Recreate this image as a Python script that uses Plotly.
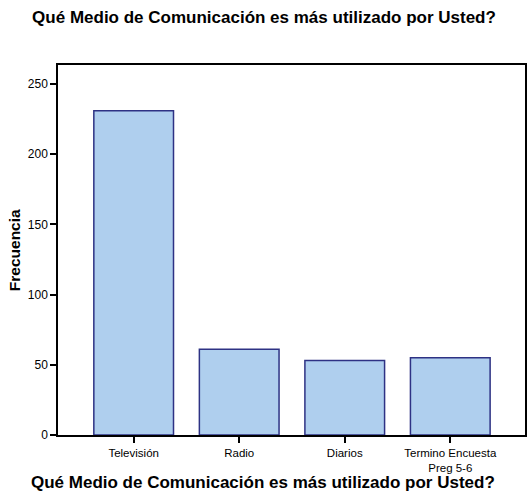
import plotly.graph_objects as go

categories = ["Televisión", "Radio", "Diarios", "Termino Encuesta<br>Preg 5-6"]
frecuencia = [231, 61, 53, 55]
y_ticks = [0, 50, 100, 150, 200, 250]
title_text = "Qué Medio de Comunicación es más utilizado por Usted?"
x_title = "Qué Medio de Comunicación es más utilizado por Usted?"
y_title = "Frecuencia"

FONT = "Liberation Sans, Arial, sans-serif"

fig = go.Figure(go.Bar(
    x=list(range(len(categories))),
    y=frecuencia,
    width=0.755,
    marker=dict(color="#AFCFEE", line=dict(color="#2E3284", width=1.5)),
))

fig.update_layout(
    width=528, height=494,
    margin=dict(l=58, r=1, t=65, b=59),
    paper_bgcolor="white", plot_bgcolor="white",
    font=dict(family=FONT, size=12, color="black"),
    showlegend=False,
    title=dict(text="<b>" + title_text + "</b>", x=0.5, xanchor="center",
               y=1 - 17 / 494, yanchor="middle", yref="container",
               font=dict(size=17, family=FONT, color="black")),
    xaxis=dict(
        range=[-0.717, 3.708], tickmode="array",
        tickvals=list(range(len(categories))), ticktext=categories,
        ticks="outside", ticklen=6, tickcolor="black", tickwidth=1.5,
        showline=True, linecolor="black", linewidth=1.5, mirror=True,
        showgrid=False, zeroline=False,
        tickfont=dict(size=11.5, family=FONT, color="black"),
    ),
    yaxis=dict(
        range=[0, 263.5], tickmode="array", tickvals=y_ticks,
        ticks="outside", ticklen=6, tickcolor="black", tickwidth=1.5,
        showline=True, linecolor="black", linewidth=1.5, mirror=True,
        showgrid=False, zeroline=False,
        tickfont=dict(size=12, family=FONT, color="black"),
    ),
    annotations=[
        dict(text="<b>" + x_title + "</b>", xref="paper", yref="paper",
             x=(264 - 58) / 469, y=-47 / 370, xanchor="center", yanchor="middle",
             showarrow=False, font=dict(size=17, family=FONT, color="black")),
        dict(text="<b>" + y_title + "</b>", xref="paper", yref="paper",
             x=-44 / 469, y=0.5, xanchor="center", yanchor="middle",
             textangle=-90, showarrow=False,
             font=dict(size=15.5, family=FONT, color="black")),
    ],
)

fig.write_html("out.html", config={"displayModeBar": False},
               post_script="document.body.style.margin='0';document.body.style.padding='0';")
